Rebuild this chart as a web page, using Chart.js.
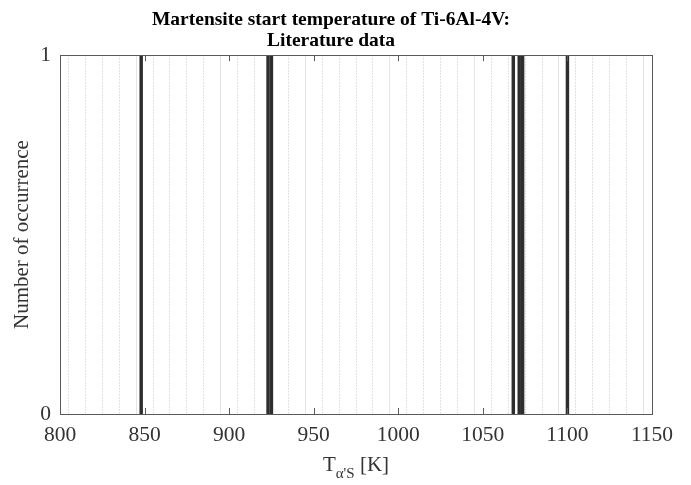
<!DOCTYPE html>
<html>
<head>
<meta charset="utf-8">
<script src="https://cdn.jsdelivr.net/npm/chart.js@4.4.1/dist/chart.umd.min.js"></script>
<style>
  html, body { margin: 0; padding: 0; background: #ffffff; }
  #wrap { width: 691px; height: 485px; position: relative; }
</style>
</head>
<body>
<div id="wrap"><canvas id="c" width="691" height="485"></canvas></div>
<script>
// Data
const titleLines = ['Martensite start temperature of Ti-6Al-4V:', 'Literature data'];
const temperaturesK = [848, 923, 925, 1068, 1071.5, 1073.5, 1100];
const occurrences = [1, 1, 1, 1, 1, 1, 1];
const xMin = 800, xMax = 1150, xMajorStep = 50, xMinorStep = 10;
const yMin = 0, yMax = 1;
const yAxisTitle = 'Number of occurrence';
const xAxisTitleParts = ['T', "\u03B1'S", ' [K]'];

const SERIF = '"Liberation Serif", "DejaVu Serif", serif';
const BOX_COLOR = '#5a5a5a';

const boxPlugin = {
  id: 'matlabBox',
  afterDraw(chart) {
    const { ctx, chartArea: a, scales } = chart;
    ctx.save();
    ctx.strokeStyle = BOX_COLOR;
    ctx.lineWidth = 1;
    const xs = scales.x;
    ctx.beginPath();
    for (let v = xMin; v <= xMax; v += xMajorStep) {
      const px = Math.round(xs.getPixelForValue(v)) + 0.5;
      ctx.moveTo(px, a.bottom); ctx.lineTo(px, a.bottom - 6);
      ctx.moveTo(px, a.top); ctx.lineTo(px, a.top + 6);
    }
    ctx.stroke();
    ctx.strokeRect(Math.round(a.left) + 0.5, Math.round(a.top) + 0.5,
                   Math.round(a.right - a.left), Math.round(a.bottom - a.top));
    // x axis title with subscript
    const cx = (a.left + a.right) / 2;
    const baseY = 471;
    ctx.fillStyle = '#333333';
    ctx.textBaseline = 'alphabetic';
    ctx.textAlign = 'left';
    const big = '21px ' + SERIF, small = '15px ' + SERIF;
    ctx.font = big; const w1 = ctx.measureText(xAxisTitleParts[0]).width;
    ctx.font = small; const w2 = ctx.measureText(xAxisTitleParts[1]).width;
    ctx.font = big; const w3 = ctx.measureText(xAxisTitleParts[2]).width;
    let x0 = cx - (w1 + w2 + w3) / 2;
    ctx.font = big; ctx.fillText(xAxisTitleParts[0], x0, baseY);
    ctx.font = small; ctx.fillText(xAxisTitleParts[1], x0 + w1, baseY + 7);
    ctx.font = big; ctx.fillText(xAxisTitleParts[2], x0 + w1 + w2, baseY);
    ctx.restore();
  }
};

new Chart(document.getElementById('c'), {
  type: 'bar',
  data: {
    datasets: [{
      data: temperaturesK.map((t, i) => ({ x: t, y: occurrences[i] })),
      backgroundColor: '#2e2e2e',
      borderWidth: 0,
      barThickness: 2.8
    }]
  },
  options: {
    responsive: false,
    animation: false,
    devicePixelRatio: 1,
    layout: { padding: { left: 10, right: 39, top: 0, bottom: 0 } },
    plugins: {
      legend: { display: false },
      tooltip: { enabled: false },
      title: {
        display: true,
        text: titleLines,
        color: '#000000',
        font: { family: SERIF, size: 19.5, weight: 'bold', lineHeight: 1.08 },
        padding: { top: 9, bottom: 4 }
      }
    },
    scales: {
      x: {
        type: 'linear',
        min: xMin, max: xMax,
        offset: false,
        afterFit(scale) { scale.height = 71; },
        ticks: {
          stepSize: xMinorStep,
          autoSkip: false,
          maxRotation: 0,
          padding: 8,
          color: '#333333',
          font: { family: SERIF, size: 21.5 },
          callback: (v) => (v % xMajorStep === 0 ? String(v) : '')
        },
        grid: {
          drawTicks: false,
          color: (c) => (c.tick && c.tick.value % xMajorStep === 0 ? '#e4e4e4' : '#d8d8d8'),
          lineWidth: 1
        },
        border: {
          display: true, color: BOX_COLOR, width: 1,
          dash: (c) => (c.tick && c.tick.value % xMajorStep === 0 ? [] : [1.5, 1.5])
        }
      },
      y: {
        min: yMin, max: yMax,
        afterFit(scale) { scale.width = 50; },
        ticks: {
          stepSize: 1,
          padding: 9,
          color: '#333333',
          font: { family: SERIF, size: 21.5 }
        },
        grid: { display: false, drawTicks: false },
        border: { display: true, color: BOX_COLOR, width: 1 },
        title: {
          display: true,
          text: yAxisTitle,
          color: '#333333',
          font: { family: SERIF, size: 21 },
          padding: { top: 0, bottom: 0 }
        }
      }
    }
  },
  plugins: [boxPlugin]
});
</script>
</body>
</html>
